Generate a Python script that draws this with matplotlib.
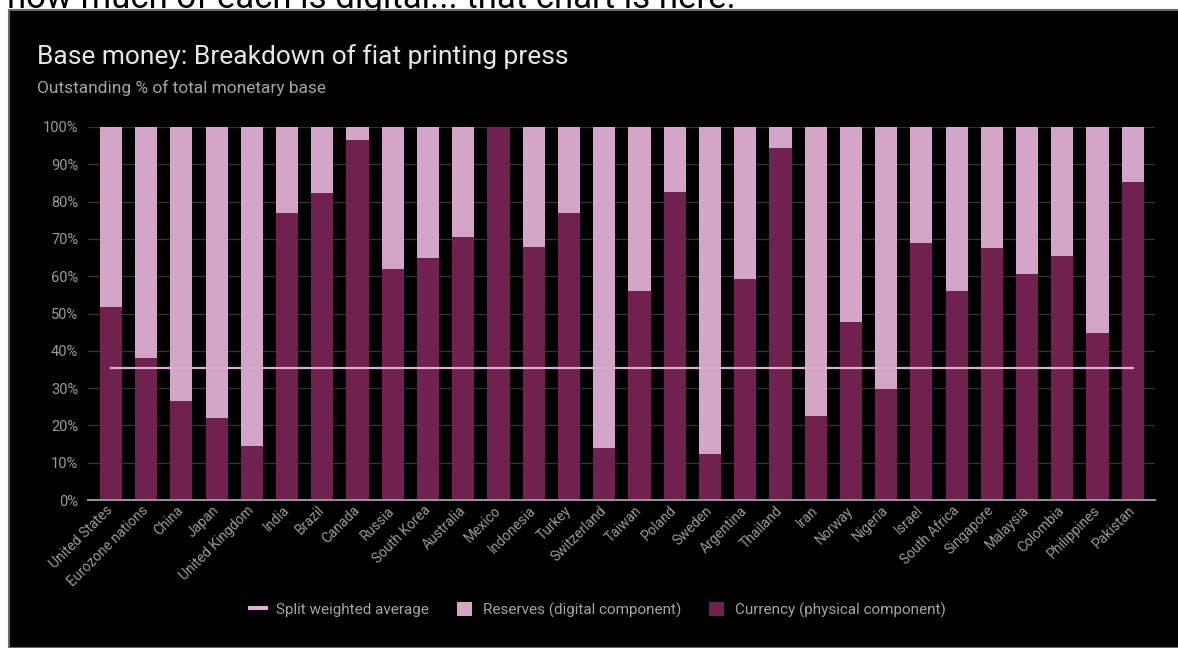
import numpy as np
import matplotlib
import matplotlib.pyplot as plt
from matplotlib.patches import Rectangle
from matplotlib.lines import Line2D
from matplotlib.ticker import FuncFormatter

matplotlib.use('Agg')

countries = ['United States', 'Eurozone nations', 'China', 'Japan', 'United Kingdom',
             'India', 'Brazil', 'Canada', 'Russia', 'South Korea', 'Australia', 'Mexico',
             'Indonesia', 'Turkey', 'Switzerland', 'Taiwan', 'Poland', 'Sweden',
             'Argentina', 'Thailand', 'Iran', 'Norway', 'Nigeria', 'Israel',
             'South Africa', 'Singapore', 'Malaysia', 'Colombia', 'Philippines', 'Pakistan']
# currency (physical) share, % of monetary base
currency = [51.8, 38.2, 26.5, 21.9, 14.5, 77.0, 82.4, 96.5, 61.8, 65.0, 70.6, 100.0,
            67.9, 77.0, 14.0, 55.9, 82.7, 12.2, 59.2, 94.5, 22.6, 47.7, 29.7, 68.8,
            56.0, 67.5, 60.5, 65.4, 44.9, 85.3]
reserves = [100 - c for c in currency]
weighted_avg = 35.5
yticks = [0, 10, 20, 30, 40, 50, 60, 70, 80, 90, 100]

plt.rcParams['font.family'] = ['Roboto', 'DejaVu Sans']

fig = plt.figure(figsize=(11.78, 6.48), dpi=100)
fig.patch.set_facecolor('white')

# text from the surrounding page, cut off at the top
fig.text(7 / 1178, 1 - 8 / 648, 'how much of each is digital... that chart is here.',
         fontsize=25, color='black', va='baseline', ha='left')

# black chart panel with thin grey border
fig.patches.append(Rectangle((9 / 1178, 0), 1.0, 1 - 10 / 648, transform=fig.transFigure,
                             facecolor='black', edgecolor='#6a6a6a', linewidth=1.5, zorder=-10))

fig.text(37 / 1178, 1 - 57 / 648, 'Base money: Breakdown of fiat printing press',
         fontsize=19, color='#e6e6e6', va='center', ha='left')
fig.text(37 / 1178, 1 - 88 / 648, 'Outstanding % of total monetary base',
         fontsize=12.5, color='#a5a5a5', va='center', ha='left')

ax = fig.add_axes([88 / 1178, 1 - 500 / 648, (1155 - 88) / 1178, (500 - 127) / 648])
ax.set_facecolor('black')

x = np.arange(len(countries))
currency_color = '#70214d'
reserves_color = '#d4a5c6'
ax.bar(x, currency, width=0.63, color=currency_color, zorder=2)
ax.bar(x, reserves, width=0.63, bottom=currency, color=reserves_color, zorder=2)
ax.plot([x[0], x[-1]], [weighted_avg, weighted_avg], color='#dcaed0', linewidth=1.6, zorder=3)

ax.set_xlim(-0.65, len(countries) - 1 + 0.63)
ax.set_ylim(0, 100)
ax.set_yticks(yticks)
ax.yaxis.set_major_formatter(FuncFormatter(lambda v, p: f'{int(v)}%'))
ax.grid(axis='y', color='#333333', linewidth=1, zorder=0)
ax.set_axisbelow(True)

for s in ['top', 'right', 'left']:
    ax.spines[s].set_visible(False)
ax.spines['bottom'].set_color('#958e97')
ax.spines['bottom'].set_linewidth(1.5)
ax.spines['bottom'].set_zorder(4)

ax.tick_params(axis='y', length=0, pad=7, labelsize=10.5, labelcolor='#9a9a9a')
ax.tick_params(axis='x', length=0, pad=6, labelsize=10, labelcolor='#9a9a9a')
ax.set_xticks(x)
ax.set_xticklabels(countries, rotation=45, ha='right', rotation_mode='anchor', va='center')

handles = [Line2D([0], [0], color='#dcaed0', linewidth=3),
           Rectangle((0, 0), 1, 1, facecolor=reserves_color),
           Rectangle((0, 0), 1, 1, facecolor=currency_color)]
labels = ['Split weighted average', 'Reserves (digital component)', 'Currency (physical component)']
leg = fig.legend(handles, labels, loc='center', bbox_to_anchor=(598 / 1178, 1 - 610 / 648),
                 ncol=3, frameon=False, fontsize=11, labelcolor='#a5a5a5',
                 handlelength=1.0, handleheight=1.0, handletextpad=0.7, columnspacing=1.8)

fig.savefig('out.png', dpi=100, facecolor=fig.get_facecolor())
